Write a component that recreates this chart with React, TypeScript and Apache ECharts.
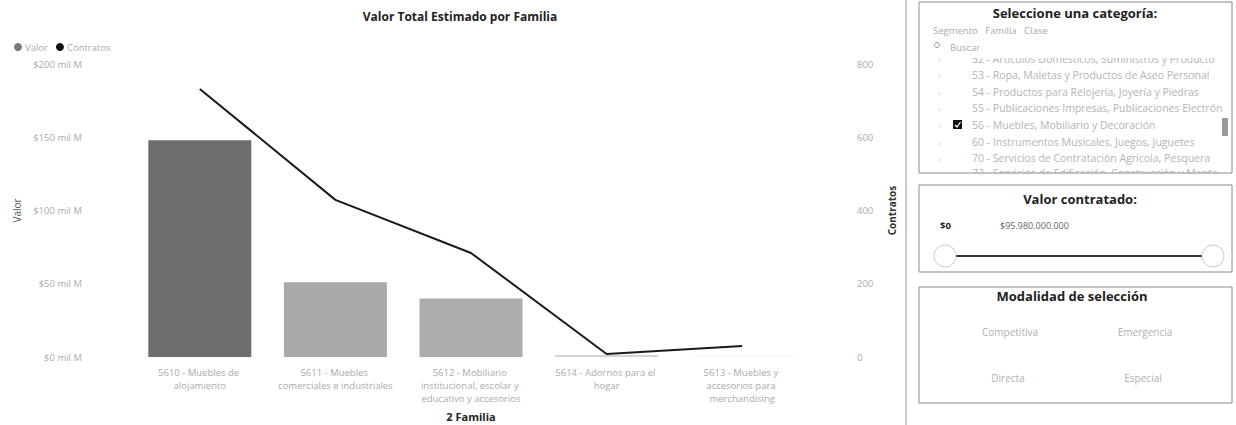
import React, { useEffect, useRef } from "react";
import * as echarts from "echarts";

const categories = [
  "5610 - Muebles de alojamiento",
  "5611 - Muebles comerciales e industriales",
  "5612 - Mobiliario institucional, escolar y educativo y accesorios",
  "5614 - Adornos para el hogar",
  "5613 - Muebles y accesorios para merchandising",
];
// Valor in "mil M"
const valor = [148, 51, 40, 1.4, 0.4];
const contratos = [732, 429, 284, 8, 30];
const barColors = ["#6e6e6e", "#a9a9a9", "#acacac", "#d4d4d4", "#ebebeb"];

const listRows = [
  "52 - Artículos Domésticos, Suministros y Productos Electrónicos",
  "53 - Ropa, Maletas y Productos de Aseo Personal",
  "54 - Productos para Relojería, Joyería y Piedras",
  "55 - Publicaciones Impresas, Publicaciones Electrónicas",
  "56 - Muebles, Mobiliario y Decoración",
  "60 - Instrumentos Musicales, Juegos, Juguetes",
  "70 - Servicios de Contratación Agrícola, Pesquera",
  "72 - Servicios de Edificación, Construcción y Mantenimiento",
];
const checkedRow = 4;
const modalidades = ["Competitiva", "Emergencia", "Directa", "Especial"];

const FONT = "'Open Sans', 'Noto Sans', sans-serif";

export default function App() {
  const ref = useRef<HTMLDivElement>(null);
  useEffect(() => {
    if (!ref.current) return;
    const chart = echarts.init(ref.current, null, { renderer: "svg" });

    const rowY = [59, 75, 92, 108, 125, 142, 158, 173];
    const graphics: any[] = [
      { type: "line", shape: { x1: 906, y1: 0, x2: 906, y2: 425 }, style: { stroke: "#9a9a9a", lineWidth: 1 } },
      // Box 1
      { type: "rect", shape: { x: 919, y: 2, width: 313, height: 171 }, style: { fill: "#fff", stroke: "#8a8a8a", lineWidth: 1 }, z: 1 },
      { type: "text", x: 1075, y: 13, z: 5, style: { text: "Seleccione una categoría:", fill: "#222", font: `bold 13px ${FONT}`, textAlign: "center", textVerticalAlign: "middle" } },
      { type: "text", x: 933, y: 30, z: 5, style: { text: "Segmento   Familia   Clase", fill: "#aaa", font: `9.5px ${FONT}`, textVerticalAlign: "middle" } },
      { type: "circle", shape: { cx: 937, cy: 45, r: 2.5 }, z: 5, style: { fill: "none", stroke: "#999", lineWidth: 1 } },
      { type: "text", x: 950, y: 47, z: 5, style: { text: "Buscar", fill: "#aaa", font: `9.5px ${FONT}`, textVerticalAlign: "middle" } },
    ];
    listRows.forEach((t, i) => {
      graphics.push({
        type: "text", x: 972, y: rowY[i], z: 3,
        style: { text: t, fill: "#b4b4b4", font: `10.5px ${FONT}`, textVerticalAlign: "middle", width: 255, overflow: "truncate", ellipsis: "" },
      });
      graphics.push({ type: "text", x: 938, y: rowY[i], z: 3, style: { text: "›", fill: "#cfcfcf", font: `9px ${FONT}`, textVerticalAlign: "middle" } });
      if (i === checkedRow) {
        graphics.push({ type: "rect", shape: { x: 953, y: rowY[i] - 5, width: 9, height: 9 }, z: 4, style: { fill: "#111" } });
        graphics.push({ type: "polyline", shape: { points: [[955, rowY[i]], [957, rowY[i] + 2], [960.5, rowY[i] - 3]] }, z: 4, style: { stroke: "#fff", lineWidth: 1.3, fill: "none" } });
      }
    });
    graphics.push(
      { type: "rect", shape: { x: 930, y: 51, width: 298, height: 7 }, z: 4, style: { fill: "#fff" } },
      { type: "rect", shape: { x: 925, y: 174, width: 305, height: 8 }, z: 4, style: { fill: "#fff" } },
      { type: "rect", shape: { x: 1222, y: 118, width: 6, height: 18 }, z: 5, style: { fill: "#9a9a9a" } },
      // Box 2
      { type: "rect", shape: { x: 919, y: 185, width: 313, height: 87 }, style: { fill: "none", stroke: "#8a8a8a", lineWidth: 1 }, z: 5 },
      { type: "text", x: 1080, y: 199, z: 5, style: { text: "Valor contratado:", fill: "#222", font: `bold 13px ${FONT}`, textAlign: "center", textVerticalAlign: "middle" } },
      { type: "text", x: 940, y: 225, z: 5, style: { text: "$0", fill: "#222", font: `bold 9.5px ${FONT}`, textVerticalAlign: "middle" } },
      { type: "text", x: 1000, y: 225, z: 5, style: { text: "$95.980.000.000", fill: "#666", font: `9px ${FONT}`, textVerticalAlign: "middle" } },
      { type: "line", shape: { x1: 955, y1: 256, x2: 1203, y2: 256 }, z: 5, style: { stroke: "#333", lineWidth: 2 } },
      { type: "circle", shape: { cx: 945, cy: 256, r: 11 }, z: 6, style: { fill: "#fff", stroke: "#c8c8c8", lineWidth: 1 } },
      { type: "circle", shape: { cx: 1213, cy: 256, r: 11 }, z: 6, style: { fill: "#fff", stroke: "#c8c8c8", lineWidth: 1 } },
      // Box 3
      { type: "rect", shape: { x: 919, y: 287, width: 313, height: 116 }, style: { fill: "none", stroke: "#8a8a8a", lineWidth: 1 }, z: 5 },
      { type: "text", x: 1072, y: 296, z: 5, style: { text: "Modalidad de selección", fill: "#222", font: `bold 13px ${FONT}`, textAlign: "center", textVerticalAlign: "middle" } }
    );
    const btnPos = [[1010, 332], [1145, 332], [1008, 378], [1143, 378]];
    modalidades.forEach((m, i) => {
      graphics.push({ type: "text", x: btnPos[i][0], y: btnPos[i][1], z: 5, style: { text: m, fill: "#b0b0b0", font: `10px ${FONT}`, textAlign: "center", textVerticalAlign: "middle" } });
    });

    chart.setOption({
      animation: false,
      backgroundColor: "#fff",
      textStyle: { fontFamily: FONT },
      title: {
        text: "Valor Total Estimado por Familia",
        left: 455,
        top: 5,
        textAlign: "center",
        textStyle: { fontSize: 12, fontWeight: "bold", color: "#222", fontFamily: FONT },
      },
      legend: {
        left: 9,
        top: 37,
        itemWidth: 8,
        itemHeight: 8,
        itemGap: 8,
        icon: "circle",
        textStyle: { color: "#aaa", fontSize: 9.5, padding: [0, 0, 0, -2] },
        data: [
          { name: "Valor", itemStyle: { color: "#7a7a7a" } },
          { name: "Contratos", itemStyle: { color: "#111" } },
        ],
      },
      grid: { left: 132, right: 426, top: 64, bottom: 68, outerBoundsMode: "none", containLabel: false },
      xAxis: {
        type: "category",
        data: categories,
        name: "2 Familia",
        nameLocation: "middle",
        nameGap: 54,
        nameTextStyle: { fontWeight: "bold", color: "#222", fontSize: 11 },
        axisLine: { show: false },
        axisTick: { show: false },
        axisLabel: {
          interval: 0,
          color: "#aaa",
          fontSize: 9.5,
          lineHeight: 13,
          width: 118,
          overflow: "break",
          margin: 9,
        },
      },
      yAxis: [
        {
          type: "value",
          min: 0,
          max: 200,
          interval: 50,
          name: "Valor",
          nameLocation: "middle",
          nameGap: 102,
          nameRotate: 90,
          nameTextStyle: { color: "#555", fontSize: 10 },
          axisLabel: { color: "#aaa", fontSize: 9.5, margin: 50, formatter: (v: number) => `$${v} mil M` },
          splitLine: { show: false },
          axisLine: { show: false },
          axisTick: { show: false },
        },
        {
          type: "value",
          min: 0,
          max: 800,
          interval: 200,
          name: "Contratos",
          nameLocation: "middle",
          nameGap: 77,
          nameRotate: 90,
          nameTextStyle: { color: "#333", fontSize: 10, fontWeight: "bold" },
          axisLabel: { color: "#aaa", fontSize: 9.5, margin: 47 },
          splitLine: { show: false },
          axisLine: { show: false },
          axisTick: { show: false },
        },
      ],
      series: [
        {
          name: "Valor",
          type: "bar",
          yAxisIndex: 0,
          barWidth: 103,
          data: valor.map((v, i) => ({ value: v, itemStyle: { color: barColors[i] } })),
          itemStyle: { color: "#7a7a7a" },
        },
        {
          name: "Contratos",
          type: "line",
          yAxisIndex: 1,
          data: contratos,
          showSymbol: false,
          symbol: "none",
          lineStyle: { color: "#1a1a1a", width: 2 },
          itemStyle: { color: "#111" },
        },
      ],
      graphic: graphics,
    });
    return () => chart.dispose();
  }, []);
  return <div ref={ref} style={{ position: "absolute", left: 0, top: 0, width: 1236, height: 425 }} />;
}
